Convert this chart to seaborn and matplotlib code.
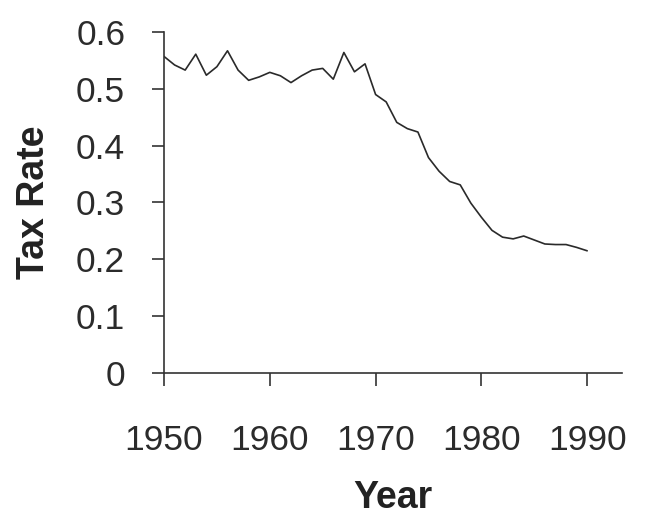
import numpy as np
import pandas as pd
import matplotlib
matplotlib.use("Agg")
import matplotlib.pyplot as plt
import seaborn as sns

# data
years = list(range(1950, 1991))
tax_rate = [0.557, 0.542, 0.533, 0.561, 0.524, 0.539, 0.567, 0.533, 0.515, 0.521,
            0.529, 0.523, 0.511, 0.523, 0.533, 0.536, 0.517, 0.564, 0.530, 0.544,
            0.490, 0.477, 0.441, 0.430, 0.424, 0.379, 0.355, 0.337, 0.331, 0.299,
            0.274, 0.251, 0.239, 0.236, 0.241, 0.234, 0.227, 0.226, 0.226, 0.221,
            0.215]
x_ticks = [1950, 1960, 1970, 1980, 1990]
y_ticks = [0, 0.1, 0.2, 0.3, 0.4, 0.5, 0.6]
y_tick_labels = ["0", "0.1", "0.2", "0.3", "0.4", "0.5", "0.6"]

df = pd.DataFrame({"Year": years, "Tax Rate": tax_rate})

sns.set_style("ticks")
plt.rcParams["font.family"] = ["Liberation Sans", "DejaVu Sans"]
axis_col = "#333333"

fig = plt.figure(figsize=(6.46, 5.31), dpi=100)
ax = fig.add_axes([0.2539, 0.2976, 0.963 - 0.2539, 0.9397 - 0.2976])

sns.lineplot(data=df, x="Year", y="Tax Rate", ax=ax, color="#2a2a2a", linewidth=1.2)

ax.set_xlim(1950, 1993.3)
ax.set_ylim(0, 0.6)
ax.set_xticks(x_ticks)
ax.set_yticks(y_ticks)
ax.set_yticklabels(y_tick_labels)

sns.despine(ax=ax)
for side in ["left", "bottom"]:
    ax.spines[side].set_color(axis_col)
    ax.spines[side].set_linewidth(1.2)

ax.tick_params(axis="both", colors=axis_col, width=1.2, length=9, labelsize=25.5,
               labelcolor="#2b2b2b")
ax.tick_params(axis="y", pad=19)
ax.tick_params(axis="x", pad=28)

ax.set_xlabel("Year", fontsize=27, fontweight="bold", color="#222222", labelpad=16)
ax.set_ylabel("Tax Rate", fontsize=27, fontweight="bold", color="#222222", labelpad=17)

fig.savefig("out.png", dpi=100)
